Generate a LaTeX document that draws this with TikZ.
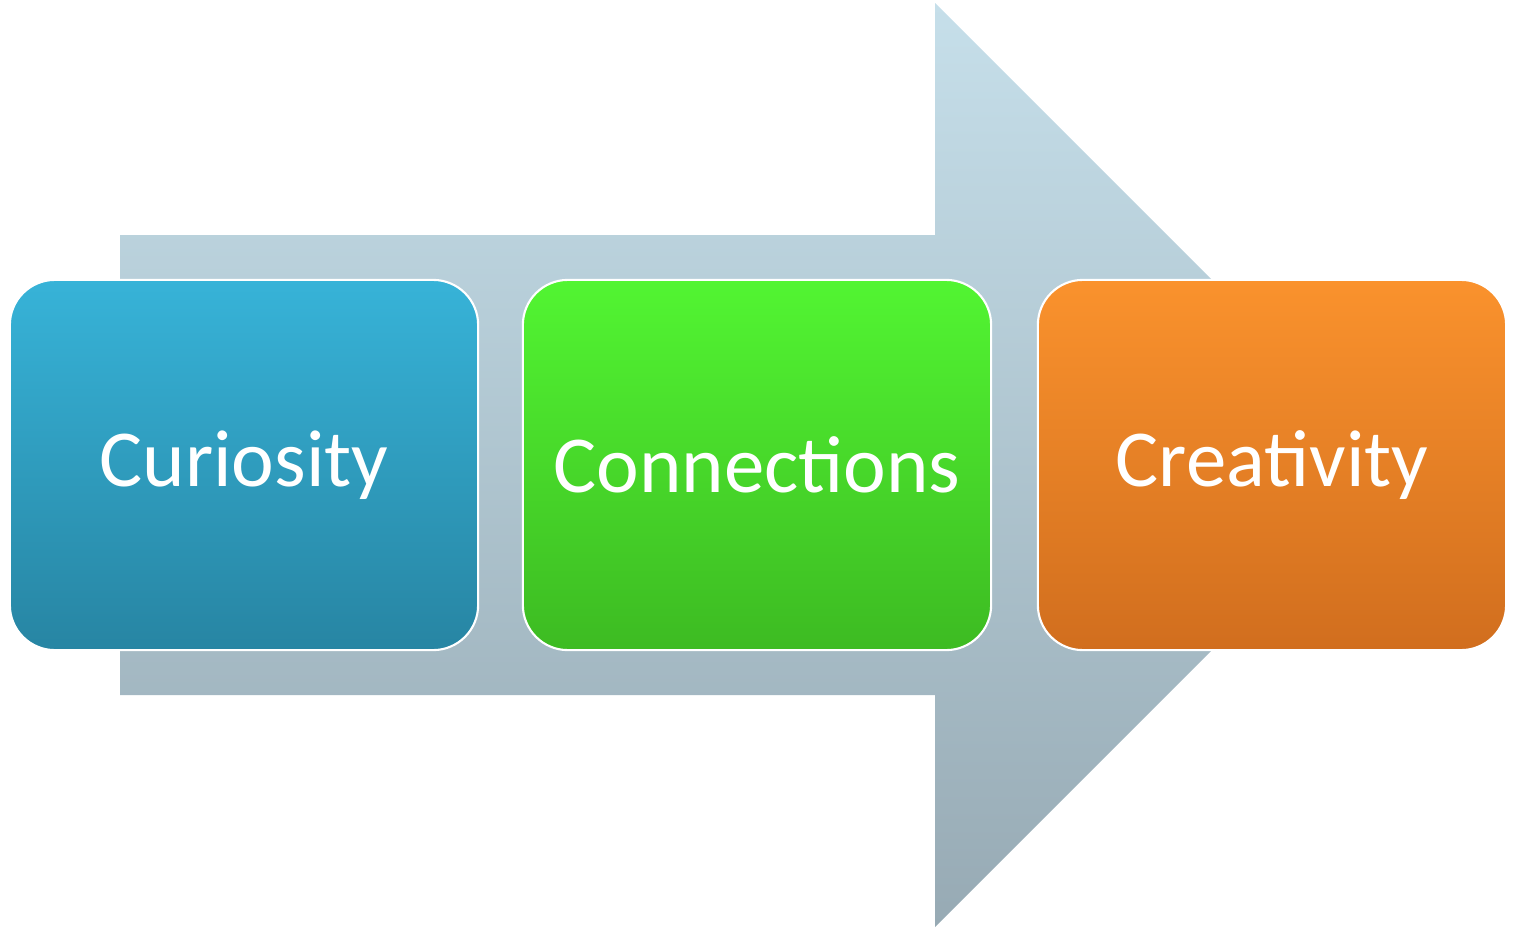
\documentclass[tikz,border=0pt]{standalone}
\usepackage{fontspec}
\setmainfont{Carlito}
\usepackage{tikz}
\usetikzlibrary{calc}
\definecolor{arrowtop}{HTML}{C6DFEA}
\definecolor{arrowbot}{HTML}{97AAB4}
\definecolor{bluetop}{HTML}{37B3D8}
\definecolor{bluebot}{HTML}{2785A3}
\definecolor{greentop}{HTML}{52F532}
\definecolor{greenbot}{HTML}{3DBB22}
\definecolor{orangetop}{HTML}{FA922D}
\definecolor{orangebot}{HTML}{D16E1E}

\begin{document}
\begin{tikzpicture}[x=0.01cm, y=-0.01cm,
  stage/.style = {rounded corners=0.45cm, minimum width=4.68cm, minimum height=3.7cm,
    text=white, font=\fontsize{23}{28}\selectfont, draw=white, line width=0.6pt}]
  \useasboundingbox (0,0) rectangle (1517,930);

  \shade[top color=arrowtop, bottom color=arrowbot]
    (120,235) -- (935,235) -- (935,3) -- (1397,465) -- (935,927) -- (935,695) -- (120,695) -- cycle;

  \node[stage, top color=bluetop, bottom color=bluebot] (curiosity) at (244,465) {Curiosity};
  \node[stage, top color=greentop, bottom color=greenbot] (connections) at (757,465) {Connections};
  \node[stage, top color=orangetop, bottom color=orangebot] (creativity) at (1272,465) {Creativity};

\end{tikzpicture}
\end{document}
